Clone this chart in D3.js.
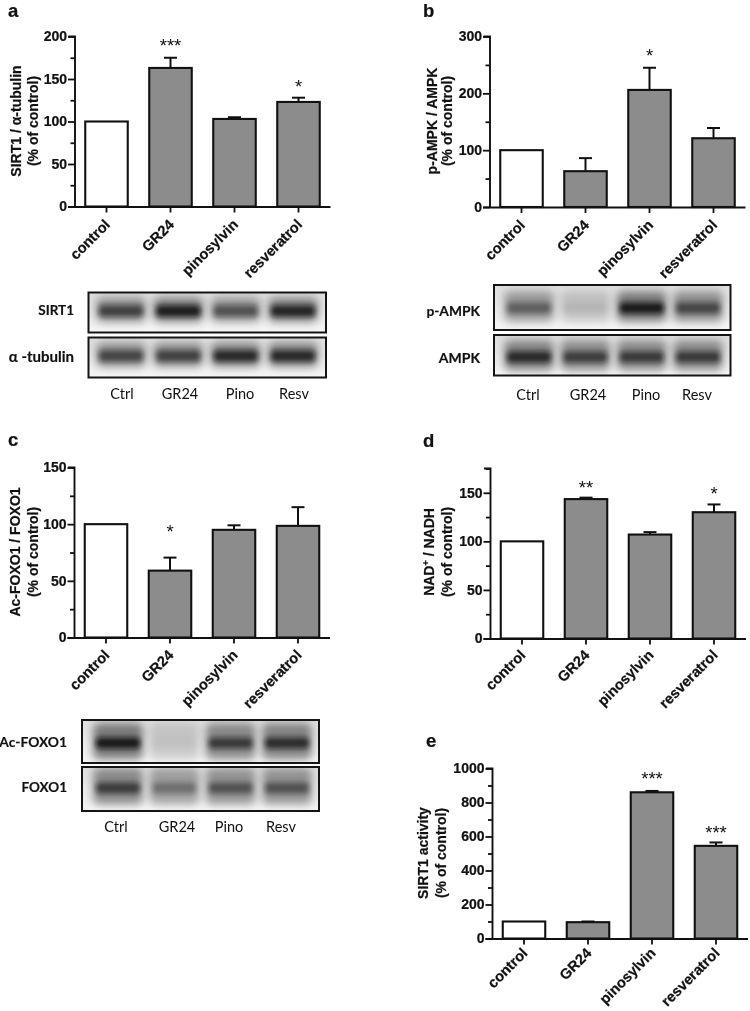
<!DOCTYPE html>
<html><head><meta charset="utf-8">
<script src="https://cdn.jsdelivr.net/npm/d3@7/dist/d3.min.js"></script>
<style>html,body{margin:0;padding:0;background:#fff}svg{display:block;filter:blur(.35px)}
text{font-family:"Liberation Sans",Arial,sans-serif;fill:#111}
text.heavy{stroke:#111;stroke-width:.22px}
text.blot{font-family:Lato,"Open Sans",sans-serif}
text.blotname{stroke:#111;stroke-width:.18px}</style>
</head><body><svg id="c" width="750" height="1011"></svg>
<script>
const categories = ["control","GR24","pinosylvin","resveratrol"];

const aValues = [100,163,103,123], aErrTop = [100,175,105,128], aStars = ["","***","","*"], aStarAt = [0,194,0,146];
const bValues = [100,63,206,121],  bErrTop = [100,86,245,139],  bStars = ["","","*",""],    bStarAt = [0,0,274,0];
const cValues = [100,59,95,98.5],  cErrTop = [100,70.5,99,115], cStars = ["","*","",""],    cStarAt = [0,97,0,0];
const dValues = [100,143.5,107,130], dErrTop = [100,145,109.5,138], dStars = ["","**","","*"], dStarAt = [0,160,0,153];
const eValues = [100,96,860,545],  eErrTop = [100,100,868,565], eStars = ["","","***","***"], eStarAt = [0,0,965,645];

const aTicks = [0,50,100,150,200],   aMinor = [25,75,125,175];
const bTicks = [0,100,200,300],      bMinor = [50,150,250];
const cTicks = [0,50,100,150],       cMinor = [25,75,125];
const dTicks = [0,50,100,150],       dMinor = [25,75,125,175];
const eTicks = [0,200,400,600,800,1000], eMinor = [100,300,500,700,900];

const laneLabels = ["Ctrl","GR24","Pino","Resv"];
// band darkness per lane, read from the blots
const sirt1Bands   = [0.80,0.98,0.72,0.94];
const tubulinBands = [0.78,0.80,0.92,0.92];
const pAmpkBands   = [0.66,0.22,1.00,0.78];
const ampkBands    = [0.92,0.82,0.84,0.84];
const acFoxoBands  = [1.00,0.16,0.84,0.90];
const foxoBands    = [0.82,0.58,0.72,0.72];

const svg = d3.select("#c");
const GRAY = "#8c8c8c", INK = "#111";

const defs = svg.append("defs");
[["soft",4.5],["core",2.6]].forEach(([id,s])=>{
  defs.append("filter").attr("id",id).attr("x","-30%").attr("y","-100%").attr("width","160%").attr("height","300%")
    .append("feGaussianBlur").attr("stdDeviation",s);
});
const grad = defs.append("linearGradient").attr("id","bg").attr("x1",0).attr("x2",0).attr("y1",0).attr("y2",1);
grad.append("stop").attr("offset","0").attr("stop-color","#dedede");
grad.append("stop").attr("offset","1").attr("stop-color","#f6f6f6");

function barPanel(p){
  const x = d3.scaleBand().domain(categories).range([p.x0,p.x1]).paddingInner(.336).paddingOuter(.168);
  const y = d3.scaleLinear().domain([0,p.max]).range([p.y0,p.yTop]);
  const g = svg.append("g");
  const rows = categories.map((c,i)=>({c,i,v:p.values[i],e:p.err[i],s:p.stars[i],at:p.starAt[i]}));

  const eb = g.selectAll("g.err").data(rows.filter(d=>d.i>0)).join("g").attr("class","err")
    .attr("stroke",INK).attr("stroke-width",2);
  eb.append("line").attr("x1",d=>x(d.c)+x.bandwidth()/2).attr("x2",d=>x(d.c)+x.bandwidth()/2)
    .attr("y1",d=>y(d.v)).attr("y2",d=>y(d.e));
  eb.append("line").attr("x1",d=>x(d.c)+x.bandwidth()/2-6.5).attr("x2",d=>x(d.c)+x.bandwidth()/2+6.5)
    .attr("y1",d=>y(d.e)).attr("y2",d=>y(d.e));

  g.selectAll("rect.bar").data(rows).join("rect").attr("class","bar")
    .attr("x",d=>x(d.c)).attr("width",x.bandwidth())
    .attr("y",d=>y(d.v)).attr("height",d=>y(0)-y(d.v))
    .attr("fill",d=>d.i===0?"#fff":GRAY).attr("stroke",INK).attr("stroke-width",2.1);

  g.selectAll("text.star").data(rows.filter(d=>d.s)).join("text").attr("class","star")
    .attr("x",d=>x(d.c)+x.bandwidth()/2).attr("y",d=>y(d.at)+10.5)
    .attr("text-anchor","middle").attr("font-size",18.5).text(d=>d.s);

  const ay = g.append("g").attr("transform",`translate(${p.x0},0)`)
    .call(d3.axisLeft(y).tickValues(p.ticks).tickFormat(d3.format("d")).tickSize(6.5).tickPadding(1));
  ay.selectAll("text").attr("class","heavy").attr("font-size",14).attr("font-weight","bold").attr("font-family",null);
  const am = g.append("g").attr("transform",`translate(${p.x0},0)`)
    .call(d3.axisLeft(y).tickValues(p.minor).tickFormat("").tickSize(4));
  const ax = g.append("g").attr("transform",`translate(0,${p.y0})`)
    .call(d3.axisBottom(x).tickSize(6).tickFormat(""));
  [ay,am,ax].forEach(a=>{a.selectAll("line").attr("stroke",INK).attr("stroke-width",1.8);
    a.select(".domain").attr("stroke",INK).attr("stroke-width",1.9).attr("fill","none");});
  ax.select(".domain").attr("d",`M${p.x0-6.5},0.5H${p.x1}`);
  ay.select(".domain").attr("d",`M0.5,${p.y0}V${p.yTop}H-6`);
  am.select(".domain").remove();

  g.selectAll("text.cat").data(categories).join("text").attr("class","cat heavy")
    .attr("transform",c=>`translate(${x(c)+x.bandwidth()/2+4.5},${p.y0+p.labelDy}) rotate(-45)`)
    .attr("text-anchor","end").attr("font-size",14.6).attr("font-weight","bold").text(c=>c);

  p.title.forEach((t,i)=>{
    g.append("text").attr("class","heavy").attr("transform",`translate(${p.titleX[i]},${p.titleY}) rotate(-90)`)
      .attr("text-anchor","middle").attr("font-size",14).attr("font-weight","bold").html(t);
  });

  svg.append("text").attr("x",p.letter[1]).attr("y",p.letter[2]).attr("font-size",18.5)
    .attr("font-weight","bold").attr("class","heavy").text(p.letter[0]);
}

function blotPanel(b){
  const x = d3.scalePoint().domain(laneLabels).range(b.lanes);
  const g = svg.append("g");
  b.rows.forEach(r=>{
    const clipId = "clip"+r.name.replace(/\W/g,"");
    const w = b.x1-b.x0, h = r.y1-r.y0;
    defs.append("clipPath").attr("id",clipId).append("rect")
      .attr("x",b.x0).attr("y",r.y0).attr("width",w).attr("height",h);
    g.append("rect").attr("x",b.x0).attr("y",r.y0).attr("width",w).attr("height",h).attr("fill","url(#bg)");
    const inner = g.append("g").attr("clip-path",`url(#${clipId})`);
    inner.selectAll("rect.halo").data(r.bands).join("rect").attr("class","halo")
      .attr("x",(d,i)=>x(laneLabels[i])-25).attr("width",50)
      .attr("y",r.cy-b.haloH*0.55).attr("height",b.haloH).attr("rx",6)
      .attr("fill","#444").attr("opacity",d=>0.12+0.55*d).attr("filter","url(#soft)");
    inner.selectAll("rect.core").data(r.bands).join("rect").attr("class","core")
      .attr("x",(d,i)=>x(laneLabels[i])-22).attr("width",44)
      .attr("y",r.cy-5.5).attr("height",11).attr("rx",4)
      .attr("fill","#111").attr("opacity",d=>0.88*Math.pow(d,1.8)).attr("filter","url(#core)");
    g.append("rect").attr("x",b.x0).attr("y",r.y0).attr("width",w).attr("height",h)
      .attr("fill","none").attr("stroke","#141414").attr("stroke-width",2);
    g.append("text").attr("class","blot blotname").attr("x",b.labelX).attr("y",r.base).attr("text-anchor","end")
      .attr("font-size",r.size).attr("font-weight","bold").text(r.name);
  });
  g.selectAll("text.lane").data(laneLabels).join("text").attr("class","lane blot")
    .attr("x",(d,i)=>b.laneText[i]).attr("y",b.laneY).attr("text-anchor","middle")
    .attr("font-size",14.5).text(d=>d);
}

barPanel({values:aValues,err:aErrTop,stars:aStars,starAt:aStarAt,ticks:aTicks,minor:aMinor,max:200,labelDy:19,
  x0:74.5,x1:330.5,y0:206.5,yTop:36.5,title:["SIRT1 / α-tubulin","(% of control)"],titleX:[20.5,37.5],titleY:121,letter:["a",8,16.7]});
barPanel({values:bValues,err:bErrTop,stars:bStars,starAt:bStarAt,ticks:bTicks,minor:bMinor,max:300,labelDy:19,
  x0:489.5,x1:745.5,y0:207,yTop:36.5,title:["p-AMPK / AMPK","(% of control)"],titleX:[437,451.5],titleY:121,letter:["b",423,16.7]});
barPanel({values:cValues,err:cErrTop,stars:cStars,starAt:cStarAt,ticks:cTicks,minor:cMinor,max:150,labelDy:18.5,
  x0:74,x1:330,y0:637.5,yTop:467.5,title:["Ac-FOXO1 / FOXO1","(% of control)"],titleX:[19.5,37.5],titleY:552,letter:["c",8,446]});
barPanel({values:dValues,err:dErrTop,stars:dStars,starAt:dStarAt,ticks:dTicks,minor:dMinor,max:175,labelDy:17.5,
  x0:490,x1:746,y0:638.5,yTop:468.5,title:['NAD<tspan dy="-5" font-size="9">+</tspan><tspan dy="5"> / NADH</tspan>',"(% of control)"],titleX:[434,451.5],titleY:552,letter:["d",423,447]});
barPanel({values:eValues,err:eErrTop,stars:eStars,starAt:eStarAt,ticks:eTicks,minor:eMinor,max:1000,labelDy:15.5,
  x0:492,x1:748,y0:938.5,yTop:768.5,title:["SIRT1 activity","(% of control)"],titleX:[428,446],titleY:853,letter:["e",426,747]});

blotPanel({x0:88.5,x1:326,lanes:[121,293],labelX:74,laneText:[122,180,240,294],laneY:399,haloH:24,rows:[
  {name:"SIRT1",y0:292.5,y1:332.5,cy:311,base:315,size:13.5,bands:sirt1Bands},
  {name:"α -tubulin",y0:337.5,y1:377.5,cy:356,base:362,size:15,bands:tubulinBands}]});
blotPanel({x0:494,x1:730.5,lanes:[529,698],labelX:480,laneText:[528,588,646,697],laneY:400,haloH:30,rows:[
  {name:"p-AMPK",y0:285,y1:330,cy:308,base:316,size:13.8,bands:pAmpkBands},
  {name:"AMPK",y0:335,y1:375.5,cy:357,base:363,size:14,bands:ampkBands}]});
blotPanel({x0:82,x1:319,lanes:[118,287],labelX:67,laneText:[116,177,229,281],laneY:832,haloH:36,rows:[
  {name:"Ac-FOXO1",y0:720,y1:763,cy:743,base:747,size:13.8,bands:acFoxoBands},
  {name:"FOXO1",y0:767,y1:811,cy:788,base:792,size:13.5,bands:foxoBands}]});
</script></body></html>
